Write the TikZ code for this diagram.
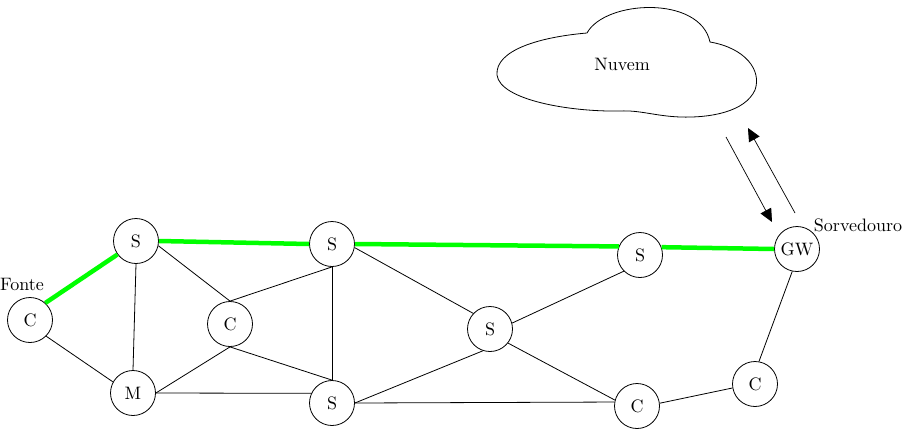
\documentclass[tikz,border=0pt]{standalone}
\usepackage{fontspec}
\setmainfont{lmroman10-regular}[Extension=.otf]
\usepackage{tikz}
\usetikzlibrary{arrows.meta}
\definecolor{RouteGreen}{HTML}{00FF00}

\begin{document}
\begin{tikzpicture}[x=1pt,y=-1pt,>={Triangle[length=13pt,width=12pt]},
    font=\fontsize{18}{21}\selectfont]
    \tikzstyle{netnode}=[draw,circle,minimum size=45pt,inner sep=0pt,line width=0.8pt]
    \tikzstyle{link}=[line width=0.8pt]
    \tikzstyle{route}=[line width=4.5pt,color=RouteGreen]
    \useasboundingbox (0,0) rectangle (912,437);
    % cloud
    \draw[line width=0.8pt] (587,33) .. controls (605,0) and (700,-5) .. (710,42)
      .. controls (745,48) and (762,70) .. (755,90)
      .. controls (745,112) and (710,118) .. (680,117)
      .. controls (655,116) and (640,110) .. (620,111)
      .. controls (570,112) and (500,100) .. (497,75)
      .. controls (495,50) and (540,37) .. (587,33) -- cycle;
    \node (nuvem) at (622,64) {Nuvem};
    % nodes
    \node[netnode] (fonte) at (30,320) {C};
    \node[netnode] (s1) at (136,241) {S};
    \node[netnode] (m) at (133,393) {M};
    \node[netnode] (c2) at (230,324) {C};
    \node[netnode] (s2) at (332,244) {S};
    \node[netnode] (s3) at (332,403) {S};
    \node[netnode] (s4) at (490,329) {S};
    \node[netnode] (s5) at (640,255) {S};
    \node[netnode] (c3) at (637,406) {C};
    \node[netnode] (c4) at (755,384) {C};
    \node[netnode] (gw) at (797,249) {GW};
    \node (fontelbl) at (22,284) {Fonte};
    \node (sorvlbl) at (858,225) {Sorvedouro};
    % links
    \draw[link] (fonte.-45)--(m.151);
    \draw[link] (s1.south)--(m.north);
    \draw[link] (s1.-12)--(c2.north);
    \draw[link] (m.east)--(c2.south);
    \draw[link] (m.east)--(s3.155);
    \draw[link] (c2.north)--(s2.south);
    \draw[link] (c2.south)--(s3.north);
    \draw[link] (s2.south)--(s3.north);
    \draw[link] (s2.-9)--(s4.137);
    \draw[link] (s4.15)--(s5.-135);
    \draw[link] (s3.east)--(s4.-108);
    \draw[link] (s4.-38)--(c3.165);
    \draw[link] (s3.east)--(c3.170);
    \draw[link] (c3.7)--(c4.190);
    \draw[link] (c4.80)--(gw.-102);
    % route
    \draw[route] (fonte.48)--(s1.216);
    \draw[route] (s1.east)--(s2.west);
    \draw[route] (s2.east)--(s5.158);
    \draw[route] (s5.20)--(gw.west);
    % up/down link
    \coordinate (downa) at (726,137);
    \coordinate (downb) at (772,222);
    \coordinate (upa) at (795,213);
    \coordinate (upb) at (748,128);
    \draw[->,line width=0.7pt] (downa)--(downb);
    \draw[->,line width=0.7pt] (upa)--(upb);
  \end{tikzpicture}
\end{document}
